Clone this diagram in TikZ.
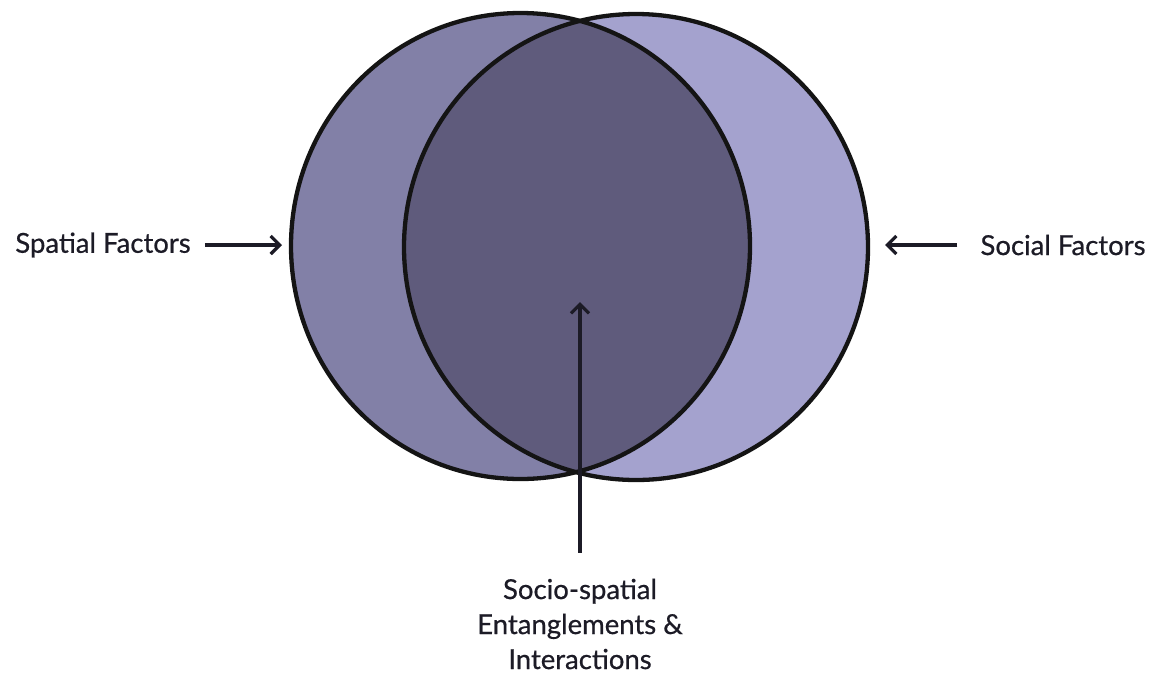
\documentclass[tikz,border=0pt]{standalone}
\usepackage{fontspec}
\setmainfont{Lato}
\newfontfamily\lblfont[FakeBold=0.6]{Lato}
\usetikzlibrary{arrows.meta}
\definecolor{leftc}{HTML}{8280A7}
\definecolor{rightc}{HTML}{A4A2CE}
\definecolor{midc}{HTML}{5F5B7C}
\definecolor{txt}{HTML}{1C1B26}
\begin{document}
\begin{tikzpicture}[x=1pt,y=-1pt,
  lbl/.style={font=\lblfont\fontsize{27.5}{35}\selectfont, text=txt, inner sep=0pt},
  outline/.style={draw=black!92, line width=4.3pt},
  arr/.style={draw=txt, line width=3.2pt, -{Straight Barb[length=9pt,width=18pt,line width=3.2pt]}}]
\useasboundingbox (0,0) rectangle (1156,673);
% circles
\fill[leftc] (520.5,246) ellipse [x radius=229.5, y radius=233];
\fill[rightc] (636,247) ellipse [x radius=232, y radius=233];
\begin{scope}
  \clip (520.5,246) ellipse [x radius=229.5, y radius=233];
  \fill[midc] (636,247) ellipse [x radius=232, y radius=233];
\end{scope}
\draw[outline] (520.5,246) ellipse [x radius=229.5, y radius=233];
\draw[outline] (636,247) ellipse [x radius=232, y radius=233];
% labels
\node[lbl] (spatial) at (103,245) {Spatial Factors};
\node[lbl] (social) at (1063,245) {Social Factors};
\node[lbl, align=center] (inter) at (580,624) {Socio-spatial\\Entanglements \&\\Interactions};
% arrow tips
\coordinate (ltip) at (282,245);
\coordinate (rtip) at (885,245);
\coordinate (btip) at (580,302);
% arrows
\draw[arr] ([xshift=14pt]spatial.east) -- (ltip);
\draw[arr] ([xshift=-23pt]social.west) -- (rtip);
\draw[arr] ([yshift=26pt]inter.north) -- (btip);
\end{tikzpicture}
\end{document}
